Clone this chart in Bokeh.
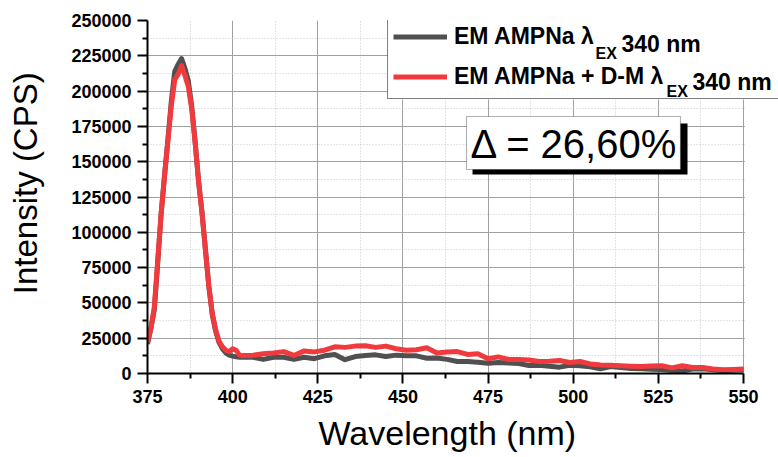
from bokeh.plotting import figure
from bokeh.models import (FixedTicker, Legend, LegendItem, Label, BoxAnnotation,
                          Range1d, Title)
from bokeh.embed import file_html
from bokeh.resources import INLINE

# ---------------- data ----------------
WAVELENGTH = list(range(375, 403)) + list(range(403, 551, 3))

EM_AMPNA = [21000, 32000, 45000, 78000, 113000, 140000, 166000, 193000, 214000, 219000,
            223000, 216000, 207000, 189000, 164000, 136000, 114000, 88000, 62000, 42000,
            30000, 22000, 17500, 14500, 13000, 12300, 11800, 11500,
            11500, 11500, 10000, 11500, 11500, 10000, 11500, 10500, 12500, 13500,
            9800, 12000, 12800, 13200, 12000, 13000, 12500, 12500, 10800, 11000,
            10000, 8500, 8500, 8000, 7200, 7800, 7500, 7000, 5700, 5800,
            5200, 4500, 5800, 5500, 4800, 3400, 5000, 4200, 3600, 3300,
            3000, 2800, 2200, 1800, 3100, 3300, 2600, 2000, 2300, 2600]

EM_AMPNA_DM = [22000, 32000, 47000, 80000, 113000, 140000, 165000, 190000, 208000, 212000,
               218000, 211000, 203000, 187000, 163000, 136000, 114000, 88000, 62000, 43000,
               31000, 23000, 19000, 16500, 15500, 17500, 16500, 13000,
               12700, 13000, 14000, 14500, 15500, 12800, 16000, 15300, 16500, 18900,
               18500, 19400, 19600, 18500, 19400, 17500, 16500, 16800, 18200, 14500,
               15300, 15500, 13500, 14000, 10500, 11800, 10000, 10000, 9500, 8500,
               8700, 9200, 7800, 8500, 6800, 6000, 5800, 5500, 5200, 5000,
               5300, 5500, 4000, 5500, 4200, 4200, 3200, 2600, 2800, 3100]

X_TICKS = [375, 400, 425, 450, 475, 500, 525, 550]
X_MINOR = [387.5, 412.5, 437.5, 462.5, 487.5, 512.5, 537.5]
Y_TICKS = [0, 25000, 50000, 75000, 100000, 125000, 150000, 175000, 200000, 225000, 250000]
Y_MINOR = [12500, 37500, 62500, 87500, 112500, 137500, 162500, 187500, 212500, 237500]
Y_LABELS = ["0", "25000", "50000", "75000", "100000", "125000", "150000",
            "175000", "200000", "225000", "250000"]
X_LABELS = ["375", "400", "425", "450", "475", "500", "525", "550"]

X_TITLE = "Wavelength (nm)"
Y_TITLE = "Intensity (CPS)"
SERIES_1 = "EM AMPNa λ"
SERIES_2 = "EM AMPNa + D-M λ"
SUB = "EX"
TAIL = "340 nm"
DELTA_TEXT = "Δ = 26,60%"

GRAY = "#505050"
RED = "#f03a3d"
FONT = "Liberation Sans"

# page-pixel geometry of the plotting frame (375 -> 147px, 550 -> 743px; 0 -> 373px, 250000 -> 20px)
PX_PER_NM = 596 / 175
X_END = 375 + (778 - 147) / PX_PER_NM

p = figure(width=778, height=457, output_backend="svg", toolbar_location=None,
           x_range=Range1d(375, X_END), y_range=Range1d(0, 250000),
           min_border_left=147, min_border_right=0, min_border_top=20,
           min_border_bottom=84)
p.outline_line_color = None
p.background_fill_color = "white"


def dx(px):
    return 375 + (px - 147) / PX_PER_NM


def dy(py):
    return (373 - py) * 250000 / 353


# grids
p.xgrid.ticker = FixedTicker(ticks=X_TICKS[1:], minor_ticks=X_MINOR)
p.ygrid.ticker = FixedTicker(ticks=Y_TICKS[1:-1], minor_ticks=Y_MINOR)
for g in (p.xgrid, p.ygrid):
    g.grid_line_color = "#a0a0a0"
    g.grid_line_width = 1
    g.minor_grid_line_color = "#c8c8c8"
    g.minor_grid_line_dash = "1 2"
    g.minor_grid_line_width = 1

# white covers: right of 550 nm, and the legend area
p.add_layout(BoxAnnotation(left=550.4, fill_color="white", fill_alpha=1, line_color=None,
                           level="glyph"))
p.add_layout(BoxAnnotation(left=dx(387), top=dy(19), bottom=dy(99), fill_color="white",
                           fill_alpha=1, line_color=None, level="glyph"))

# axes
p.xaxis.ticker = FixedTicker(ticks=X_TICKS, minor_ticks=X_MINOR)
p.yaxis.ticker = FixedTicker(ticks=Y_TICKS, minor_ticks=Y_MINOR)
p.xaxis.bounds = (375, 550)
p.xaxis.major_label_overrides = {t: l for t, l in zip(X_TICKS, X_LABELS)}
p.yaxis.major_label_overrides = {t: l for t, l in zip(Y_TICKS, Y_LABELS)}
for ax in (p.xaxis[0], p.yaxis[0]):
    ax.axis_line_width = 2
    ax.axis_line_color = "black"
    ax.major_tick_line_width = 2
    ax.minor_tick_line_width = 2
    ax.major_tick_line_color = "black"
    ax.minor_tick_line_color = "black"
    ax.major_tick_out = 10
    ax.major_tick_in = 0
    ax.minor_tick_out = 5
    ax.minor_tick_in = 0
    ax.major_label_text_font = FONT
    ax.major_label_text_font_style = "bold"
    ax.major_label_text_font_size = "18px"
    ax.major_label_text_color = "black"
p.xaxis.major_label_standoff = 6
p.yaxis.major_label_standoff = 6

# y title: axis label (leading no-break spaces lift it to where the reference has it)
p.yaxis.axis_label = "\u00a0\u00a0\u00a0" + Y_TITLE
p.yaxis.axis_label_text_font = FONT
p.yaxis.axis_label_text_font_size = "33px"
p.yaxis.axis_label_text_font_style = "normal"
p.yaxis.axis_label_text_color = "black"
p.yaxis.axis_label_standoff = 24

# x title: below-panel title offset to sit under 375..550 centre
p.add_layout(Title(text=X_TITLE, align="left", offset=171, standoff=12,
                   text_font=FONT, text_font_size="34px", text_font_style="normal",
                   text_color="black"), "below")

# lines
r1 = p.line(WAVELENGTH, EM_AMPNA, line_color=GRAY, line_width=5, line_join="round")
r2 = p.line(WAVELENGTH, EM_AMPNA_DM, line_color=RED, line_width=5, line_join="round")

# legend
legend = Legend(items=[LegendItem(label=SERIES_1, renderers=[r1]),
                       LegendItem(label=SERIES_2, renderers=[r2])],
                location=(240, 373 - 99), margin=0, padding=5, spacing=7,
                glyph_width=54, glyph_height=33, label_height=33,
                label_width=420, label_standoff=7,
                label_text_font=FONT, label_text_font_style="bold",
                label_text_font_size="23px", label_text_color="black",
                border_line_color="black", border_line_width=1.5,
                background_fill_color="white", background_fill_alpha=0)
p.add_layout(legend)

for (x_sub, y_sub, x_tail, y_tail) in [(595, 53, 621, 43.5), (666, 91, 692, 81.5)]:
    p.add_layout(Label(x=dx(x_sub), y=dy(y_sub), text=SUB, text_font=FONT,
                       text_font_style="bold", text_font_size="16px",
                       text_color="black", text_baseline="middle", level="overlay"))
    p.add_layout(Label(x=dx(x_tail), y=dy(y_tail), text=TAIL, text_font=FONT,
                       text_font_style="bold", text_font_size="23px",
                       text_color="black", text_baseline="middle", level="overlay"))

# delta box
p.add_layout(BoxAnnotation(left=dx(472), right=dx(687), top=dy(123), bottom=dy(174),
                           fill_color="black", fill_alpha=1, line_color=None))
p.add_layout(BoxAnnotation(left=dx(466), right=dx(680), top=dy(116), bottom=dy(169),
                           fill_color="white", fill_alpha=1, line_color="black",
                           line_width=1.2))
p.add_layout(Label(x=dx(470), y=dy(143.5), text=DELTA_TEXT, text_font=FONT,
                   text_font_size="40px", text_color="black",
                   text_baseline="middle", level="overlay"))

open("out.html", "w").write(file_html(p, INLINE))
